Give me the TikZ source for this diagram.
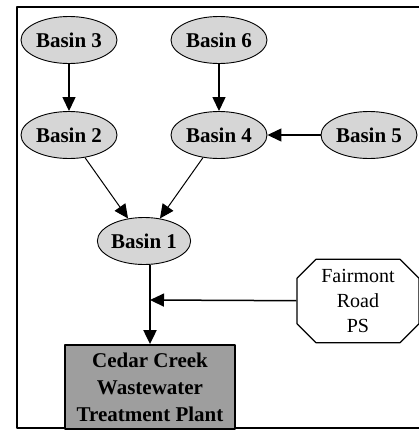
\documentclass[tikz,border=0pt]{standalone}
\usepackage{fontspec}
\setmainfont{Liberation Serif}
\usepackage{tikz}
\usetikzlibrary{arrows.meta}
\usetikzlibrary{shapes.geometric,shapes.misc}

\definecolor{basinfill}{rgb}{0.84,0.84,0.84}
\definecolor{plantfill}{rgb}{0.62,0.62,0.62}

\tikzset{
    basin/.style={ellipse,draw,line width=0.9bp,fill=basinfill,
        minimum width=96bp,minimum height=47bp,inner sep=0pt,
        font=\fontsize{21bp}{24bp}\selectfont\bfseries},
    pumpst/.style={chamfered rectangle,draw,line width=1.2bp,fill=white,
        chamfered rectangle xsep=9bp,chamfered rectangle ysep=10bp,
        minimum width=122bp,minimum height=75bp,inner sep=0pt,align=center,
        font=\fontsize{20bp}{25bp}\selectfont},
    plant/.style={rectangle,draw,line width=1.8bp,fill=plantfill,
        minimum width=170bp,minimum height=84bp,inner sep=0pt,align=center,
        font=\fontsize{21bp}{27bp}\selectfont\bfseries},
}

\begin{document}
\begin{tikzpicture}[>={Triangle[length=14bp,width=13bp]},line join=bevel,x=1bp,y=-1bp]
    \useasboundingbox (0,0) rectangle (419,430);
    \fill[white] (0,0) rectangle (419,430);
    %%
    \draw[line width=2bp] (419,7) -- (17,7) -- (17,428) -- (419,428);
    %%
    % Node: Basin 3
    \node[basin] (B3) at (69,40) {Basin 3};
    % Node: Basin 6
    \node[basin] (B6) at (219,40) {Basin 6};
    % Node: Basin 2
    \node[basin] (B2) at (69,135) {Basin 2};
    % Node: Basin 4
    \node[basin] (B4) at (219,135) {Basin 4};
    % Node: Basin 5
    \node[basin] (B5) at (369,135) {Basin 5};
    % Node: Basin 1
    \node[basin,minimum width=88bp] (B1) at (144,241) {Basin 1};
    % Node: Fairmont Road PS
    \node[pumpst] (FR) at (358,301) {Fairmont\\Road\\PS};
    % Node: Cedar Creek WWTP
    \node[plant] (CC) at (150,387) {Cedar Creek\\Wastewater\\Treatment Plant};
    \coordinate (J) at (150,300);
    %%
    % Edge: B3 -> B2
    \draw [->,line width=1.3bp] (B3) -- (B2);
    % Edge: B6 -> B4
    \draw [->,line width=1.3bp] (B6) -- (B4);
    % Edge: B5 -> B4
    \draw [->,line width=1.3bp] (B5) -- (B4);
    % Edge: B2 -> B1
    \draw [->,line width=1bp] (B2) -- (B1);
    % Edge: B4 -> B1
    \draw [->,line width=1bp] (B4) -- (B1);
    % Edge: B1 -> CC
    \draw [line width=2bp] (B1.south -| J) -- (J);
    \draw [->,line width=2bp] (J) -- (CC);
    % Edge: FR -> CC
    \draw [->,line width=1.5bp] (FR) -- (J);
    %
\end{tikzpicture}
\end{document}
